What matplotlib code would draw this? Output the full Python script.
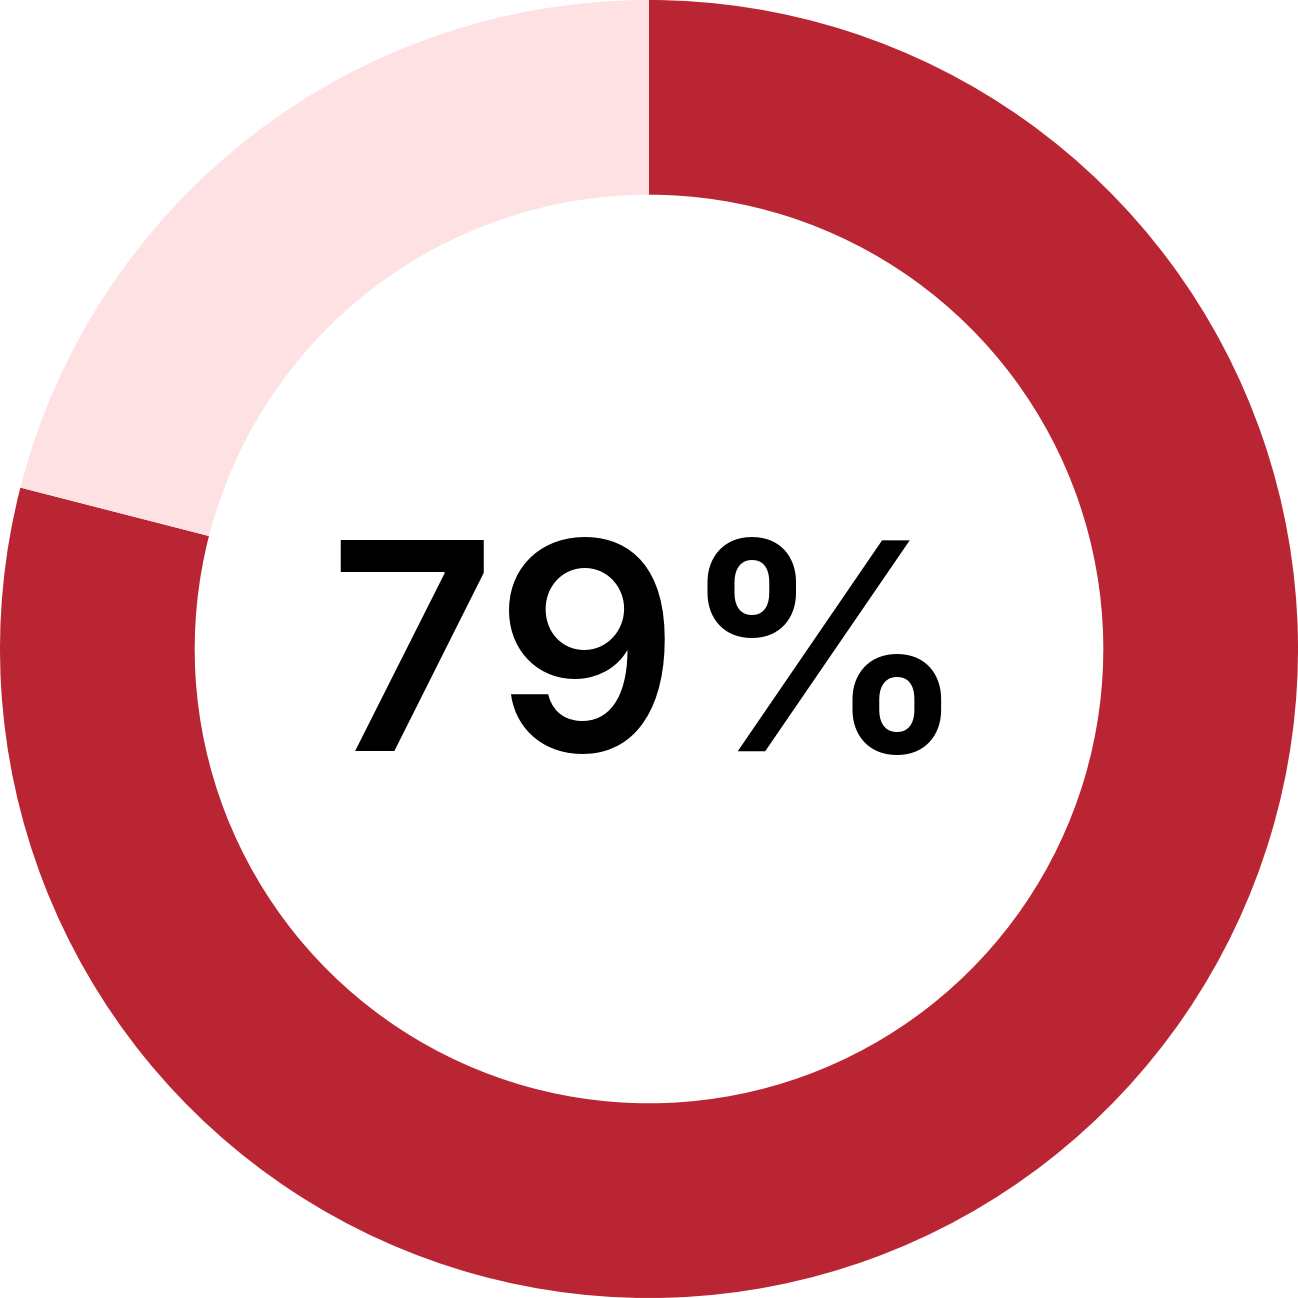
import matplotlib
matplotlib.use('Agg')
import matplotlib.pyplot as plt

# donut share
labels = ['Yes', 'Rest']
values = [79, 21]
colors = ['#B92532', '#FDE1E3']
center_text = '79%'

fig = plt.figure(figsize=(12.98, 12.98), dpi=100)
ax = fig.add_axes([0, 0, 1, 1])
ax.pie(values, colors=colors, startangle=90, counterclock=False,
       radius=1.0, wedgeprops=dict(width=0.30, linewidth=0))
ax.set_xlim(-1, 1)
ax.set_ylim(-1, 1)
ax.set_aspect('equal')
ax.axis('off')

ax.text(0.0, 0.005, center_text, ha='center', va='center_baseline', fontsize=208,
        family=['Inter', 'DejaVu Sans'], fontweight='semibold', color='black')

fig.savefig('out.png', dpi=100)
